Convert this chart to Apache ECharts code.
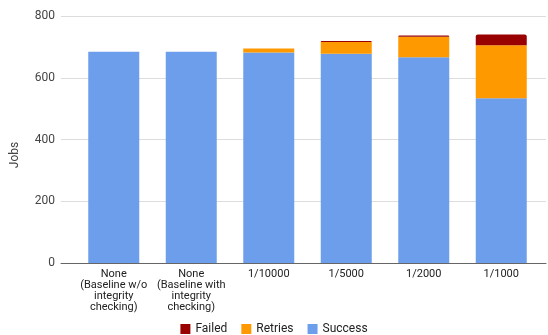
<!DOCTYPE html>
<html>
<head>
<meta charset="utf-8">
<script src="https://cdn.jsdelivr.net/npm/echarts@6/dist/echarts.min.js"></script>
<style>
  html, body { margin: 0; padding: 0; background: #fff; }
  #chart { width: 548px; height: 335px; }
</style>
</head>
<body>
<div id="chart"></div>
<script>
// 横坐标
var categories = [
    'None\n(Baseline w/o\nintegrity\nchecking)',
    'None\n(Baseline with\nintegrity\nchecking)',
    '1/10000', '1/5000', '1/2000', '1/1000'
];
var successData = [684, 684, 682, 678, 666, 534]; //成功
var retriesData = [0, 0, 13, 38, 67, 171];        //重试
var failedData = [0, 0, 0, 3, 4, 35];             //失败
var yTicks = [0, 200, 400, 600, 800];

var myChart = echarts.init(document.getElementById('chart'));

var fontFamily = 'Roboto, Arial, sans-serif';

option = {
    backgroundColor: '#fff',
    textStyle: { fontFamily: fontFamily },
    animation: false,
    grid: [
        { left: 61, right: 2, top: 16, bottom: 72 },   //网格线
        { left: 75, right: 8, top: 16, bottom: 72 }    //柱子
    ],
    legend: {
        top: 323,
        left: 'center',
        padding: 0,
        icon: 'rect',
        itemWidth: 10,
        itemHeight: 10,
        itemGap: 14,
        textStyle: { color: '#222', fontSize: 12, fontFamily: fontFamily },
        data: ['Failed', 'Retries', 'Success']
    },
    xAxis: [{
        gridIndex: 0,
        type: 'value',
        min: 0,
        max: 1,
        axisLine: { show: true, lineStyle: { color: '#666', width: 1 } },
        axisTick: { show: false },
        axisLabel: { show: false },
        splitLine: { show: false }
    }, {
        gridIndex: 1,
        type: 'category',
        data: categories,
        axisLine: { show: false },
        axisTick: { show: false },
        axisLabel: {
            interval: 0,
            margin: 6,
            color: '#222',
            fontSize: 11,
            lineHeight: 11,
            fontFamily: fontFamily
        }
    }],
    yAxis: [{
        gridIndex: 0,
        type: 'value',
        min: yTicks[0],
        max: yTicks[yTicks.length - 1],
        interval: 200,
        axisLine: { show: false },
        axisTick: { show: false },
        axisLabel: { color: '#444', fontSize: 12, margin: 6, fontFamily: fontFamily },
        splitLine: { lineStyle: { color: '#ddd', width: 1 } }
    }, {
        gridIndex: 1,
        type: 'value',
        min: yTicks[0],
        max: yTicks[yTicks.length - 1],
        show: false,
        splitLine: { show: false }
    }],
    graphic: [{
        type: 'text',
        x: 15,
        y: 155,
        rotation: Math.PI / 2,
        style: {
            text: 'Jobs',
            fill: '#444',
            font: '12px ' + fontFamily,
            align: 'center',
            verticalAlign: 'middle'
        }
    }],
    series: [{
        name: 'Success',
        type: 'bar',
        stack: 'jobs',
        xAxisIndex: 1,
        yAxisIndex: 1,
        barWidth: 51,
        itemStyle: { color: '#6d9eeb' },
        data: successData
    }, {
        name: 'Retries',
        type: 'bar',
        stack: 'jobs',
        xAxisIndex: 1,
        yAxisIndex: 1,
        barWidth: 51,
        itemStyle: { color: '#ff9900' },
        data: retriesData
    }, {
        name: 'Failed',
        type: 'bar',
        stack: 'jobs',
        xAxisIndex: 1,
        yAxisIndex: 1,
        barWidth: 51,
        itemStyle: { color: '#990000', borderRadius: [2, 2, 0, 0] },
        data: failedData
    }]
};

myChart.setOption(option);
</script>
</body>
</html>
